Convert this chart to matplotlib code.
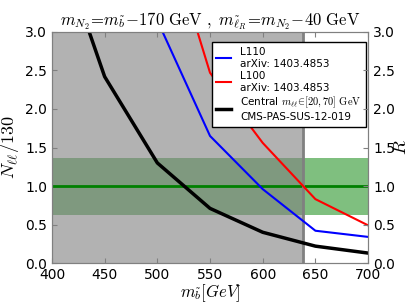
import numpy as np
import matplotlib
matplotlib.use("Agg")
import matplotlib.pyplot as plt

plt.rcParams["mathtext.fontset"] = "cm"
plt.rcParams["axes.edgecolor"] = "gray"

# --- datos ---
m_sbottom = [400, 450, 500, 550, 600, 650, 700]
central_cms = [4.4, 2.42, 1.30, 0.71, 0.40, 0.22, 0.13]

m_l110 = [500, 550, 600, 650, 700]
l110 = [3.15, 1.65, 0.96, 0.42, 0.34]

m_l100 = [500, 550, 600, 650, 700]
l100 = [4.7, 2.47, 1.56, 0.83, 0.49]

band_low, band_high = 0.62, 1.37
band_center = 1.0
excluded_max = 638

fig = plt.figure(figsize=(4.09, 3.07), dpi=100)
ax = fig.add_axes([0.127, 0.143, 0.773, 0.753])

ax.axhspan(band_low, band_high, color="g", alpha=0.5, lw=0)
ax.axhline(band_center, color="g", lw=2)
ax.axvspan(400, excluded_max, facecolor="gray", alpha=0.6, lw=0)
ax.axvline(excluded_max, color="gray", lw=2)

ax.plot(m_l110, l110, color="b", lw=1.5, label="L110\narXiv: 1403.4853")
ax.plot(m_l100, l100, color="r", lw=1.5, label="L100\narXiv: 1403.4853")
ax.plot(m_sbottom, central_cms, color="k", lw=2.5,
        label="Central $m_{\\ell\\ell}\\!\\in\\![20,70]\\ \\mathrm{GeV}$\nCMS-PAS-SUS-12-019")

ax.set_xlim(400, 700)
ax.set_ylim(0, 3.0)
ax.set_xticks(m_sbottom)
ax.set_yticks(np.arange(0, 3.01, 0.5))
ax.tick_params(direction="in", top=True, labelsize=10, color="gray")

ax.set_xlabel(r"$m_{\tilde{b}}[GeV]$", fontsize=12, labelpad=0)
ax.set_ylabel(r"$N_{\ell\ell}/130$", fontsize=13, labelpad=3)
ax.set_title(r"$m_{N_2}\!=\!m_{\tilde{b}}\!-\!170\ \mathrm{GeV}\ ,\ "
             r"m_{\tilde{\ell}_R}\!=\!m_{N_2}\!-\!40\ \mathrm{GeV}$",
             fontsize=12, pad=3)

ax2 = ax.twinx()
ax2.set_ylim(0, 3.0)
ax2.set_yticks(np.arange(0, 3.01, 0.5))
ax2.tick_params(direction="in", labelsize=10, color="gray")
ax2.set_ylabel(r"$R$", fontsize=13, labelpad=-2)

leg = ax.legend(loc="upper right", bbox_to_anchor=(0.994, 0.957), fontsize=7.5,
                fancybox=False, framealpha=1, handlelength=1.4,
                handletextpad=0.9, labelspacing=0.15, borderpad=0.45,
                borderaxespad=0)
leg.get_frame().set_edgecolor("k")
for t in leg.get_texts():
    t.set_linespacing(1.3)

fig.savefig("out.png", dpi=100)
